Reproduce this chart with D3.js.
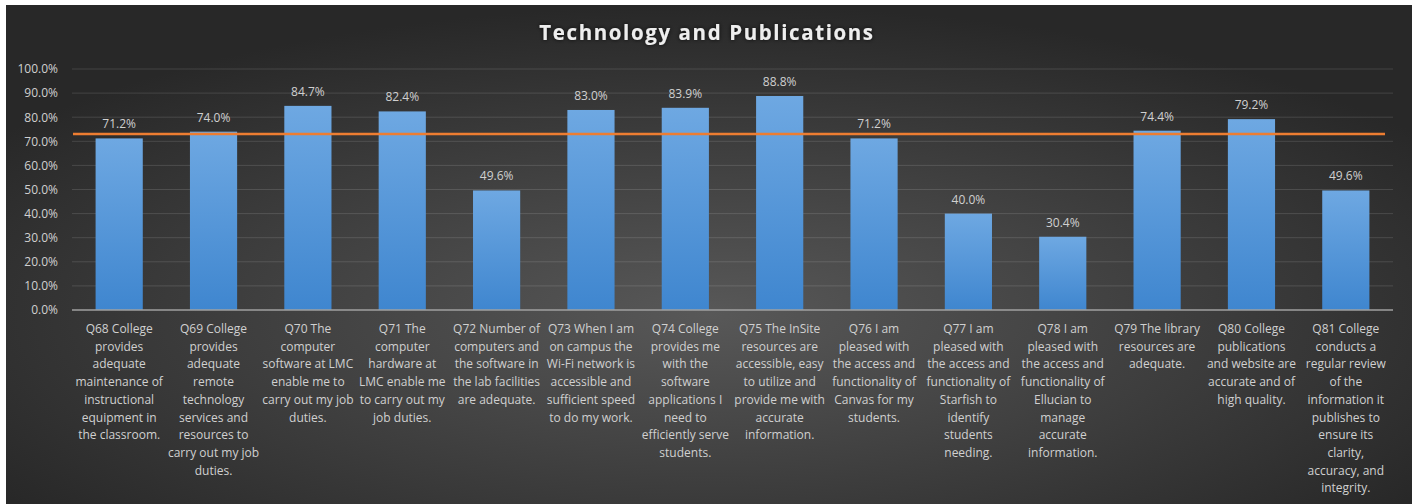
<!DOCTYPE html>
<html><head><meta charset="utf-8">
<script src="https://cdn.jsdelivr.net/npm/d3@7"></script>
<style>html,body{margin:0;padding:0;background:#fff;} svg{display:block;}</style>
</head><body>
<svg id="chart" width="1412" height="504"></svg>
<script>
const title = "Technology and Publications";
const categories = [
  "Q68 College|provides|adequate|maintenance of|instructional|equipment in|the classroom.",
  "Q69 College|provides|adequate|remote|technology|services and|resources to|carry out my job|duties.",
  "Q70 The|computer|software at LMC|enable me to|carry out my job|duties.",
  "Q71 The|computer|hardware at|LMC enable me|to carry out my|job duties.",
  "Q72 Number of|computers and|the software in|the lab facilities|are adequate.",
  "Q73 When I am|on campus the|Wi-Fi network is|accessible and|sufficient speed|to do my work.",
  "Q74 College|provides me|with the|software|applications I|need to|efficiently serve|students.",
  "Q75 The InSite|resources are|accessible, easy|to utilize and|provide me with|accurate|information.",
  "Q76 I am|pleased with|the access and|functionality of|Canvas for my|students.",
  "Q77 I am|pleased with|the access and|functionality of|Starfish to|identify|students|needing.",
  "Q78 I am|pleased with|the access and|functionality of|Ellucian to|manage|accurate|information.",
  "Q79 The library|resources are|adequate.",
  "Q80 College|publications|and website are|accurate and of|high quality.",
  "Q81 College|conducts a|regular review|of the|information it|publishes to|ensure its|clarity,|accuracy, and|integrity."
];
const values = [71.2, 74.0, 84.7, 82.4, 49.6, 83.0, 83.9, 88.8, 71.2, 40.0, 30.4, 74.4, 79.2, 49.6];
const benchmark = 73.0;
const yTicks = [0, 10, 20, 30, 40, 50, 60, 70, 80, 90, 100];

const svg = d3.select("#chart");
const W = 1412, H = 504;
const font = "'Open Sans', 'Noto Sans', sans-serif";
const defs = svg.append("defs");

const bg = defs.append("radialGradient").attr("id", "bg")
  .attr("cx", "50%").attr("cy", "62%").attr("r", "62%");
bg.append("stop").attr("offset", "0%").attr("stop-color", "#585858");
bg.append("stop").attr("offset", "100%").attr("stop-color", "#282828");

const barGrad = defs.append("linearGradient").attr("id", "bar")
  .attr("x1", 0).attr("y1", 0).attr("x2", 0).attr("y2", 1);
barGrad.append("stop").attr("offset", "0%").attr("stop-color", "#6ea8e2");
barGrad.append("stop").attr("offset", "100%").attr("stop-color", "#3f86cf");

const glow = defs.append("filter").attr("id", "glow")
  .attr("x", "-10%").attr("y", "-40%").attr("width", "120%").attr("height", "180%");
glow.append("feGaussianBlur").attr("in", "SourceAlpha").attr("stdDeviation", 2).attr("result", "b");
glow.append("feFlood").attr("flood-color", "#000").attr("flood-opacity", 0.8);
glow.append("feComposite").attr("in2", "b").attr("operator", "in").attr("result", "s");
const fm = glow.append("feMerge");
fm.append("feMergeNode").attr("in", "s");
fm.append("feMergeNode").attr("in", "SourceGraphic");

svg.append("rect").attr("x", 6).attr("y", 5).attr("width", W - 6).attr("height", H - 5)
  .attr("fill", "url(#bg)");

const plot = {left: 72, right: 1393, top: 69, bottom: 310};
const x = d3.scaleBand().domain(d3.range(categories.length))
  .range([plot.left, plot.right]).paddingInner(0.5).paddingOuter(0.25);
const y = d3.scaleLinear().domain([0, 100]).range([plot.bottom, plot.top]);

// title
svg.append("text").attr("x", 707).attr("y", 40).attr("text-anchor", "middle")
  .attr("font-family", font).attr("font-weight", 700).attr("font-size", 20.5)
  .attr("letter-spacing", 1.6)
  .attr("fill", "#eeeeee").attr("filter", "url(#glow)").text(title);

// gridlines
svg.append("g").selectAll("line").data(yTicks.filter(d => d > 0)).join("line")
  .attr("x1", plot.left).attr("x2", plot.right)
  .attr("y1", d => y(d)).attr("y2", d => y(d))
  .attr("stroke", "#ffffff").attr("stroke-opacity", 0.13).attr("stroke-width", 1);

// y axis labels
const yAxis = d3.axisLeft(y).tickValues(yTicks).tickSize(0).tickPadding(0)
  .tickFormat(d => d.toFixed(1) + "%");
const ya = svg.append("g").attr("transform", `translate(58,0)`).call(yAxis);
ya.select(".domain").remove();
ya.selectAll("text").attr("font-family", font).attr("font-size", 12).attr("fill", "#d0d0d0");

// bars
svg.append("g").selectAll("rect").data(values).join("rect")
  .attr("x", (d, i) => x(i)).attr("width", x.bandwidth())
  .attr("y", d => y(d)).attr("height", d => y(0) - y(d))
  .attr("fill", "url(#bar)");

// axis line
svg.append("line").attr("x1", plot.left).attr("x2", plot.right)
  .attr("y1", y(0)).attr("y2", y(0)).attr("stroke", "#a0a0a0").attr("stroke-width", 1.5);

// benchmark line
svg.append("line").attr("x1", plot.left + 1).attr("x2", plot.right - 8)
  .attr("y1", y(benchmark)).attr("y2", y(benchmark))
  .attr("stroke", "#ed7d31").attr("stroke-width", 2.5);

// value labels
svg.append("g").selectAll("text").data(values).join("text")
  .attr("x", (d, i) => x(i) + x.bandwidth() / 2).attr("y", d => y(d) - 10)
  .attr("text-anchor", "middle").attr("font-family", font).attr("font-size", 12)
  .attr("fill", "#d0d0d0").text(d => d.toFixed(1) + "%");

// category labels
const cg = svg.append("g").selectAll("text").data(categories).join("text")
  .attr("text-anchor", "middle").attr("font-family", font).attr("font-size", 12)
  .attr("fill", "#d0d0d0");
cg.each(function(d, i) {
  const cx = x(i) + x.bandwidth() / 2;
  d3.select(this).selectAll("tspan").data(d.split("|")).join("tspan")
    .attr("x", cx).attr("y", (l, j) => 333 + j * 17.7).text(l => l);
});
</script>
</body></html>
